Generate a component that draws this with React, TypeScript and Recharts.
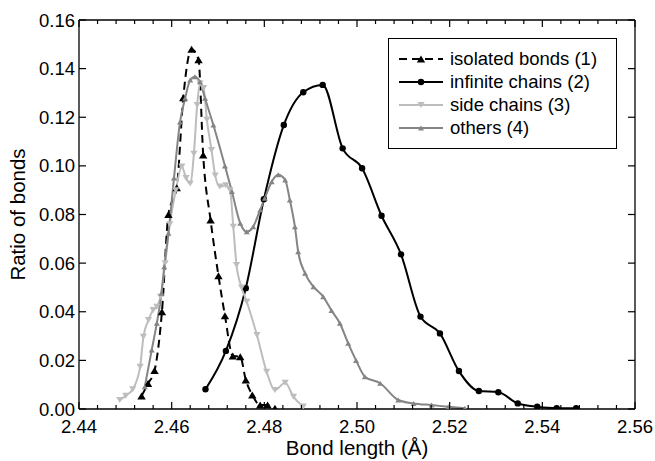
import React from "react";
import { LineChart, Line, XAxis, YAxis, Legend } from "recharts";

// bond length (Å) / ratio of bonds
const isolatedX = [2.4535, 2.4549, 2.4563, 2.4579, 2.4593, 2.4611, 2.4625, 2.4643, 2.4658, 2.4668, 2.4684, 2.4701, 2.4715, 2.4732, 2.4748, 2.476, 2.4774, 2.4791, 2.4807, 2.4823];
const isolatedY = [0.0053, 0.0105, 0.0158, 0.04, 0.08, 0.091, 0.128, 0.148, 0.1436, 0.1045, 0.0777, 0.0548, 0.0384, 0.0218, 0.0215, 0.0119, 0.0058, 0.0016, 0.0016, 0.0003];

const infiniteX = [2.4673, 2.4717, 2.476, 2.4799, 2.4842, 2.4884, 2.4926, 2.4969, 2.5011, 2.5053, 2.5095, 2.5137, 2.5179, 2.522, 2.5263, 2.5305, 2.5347, 2.5389, 2.5431, 2.5473];
const infiniteY = [0.0081, 0.0239, 0.0497, 0.0863, 0.1168, 0.1303, 0.1333, 0.1072, 0.099, 0.0795, 0.0636, 0.038, 0.0311, 0.0156, 0.0074, 0.0069, 0.0023, 0.0009, 0.0003, 0.0003];

const sideX = [2.4488, 2.4501, 2.4516, 2.4532, 2.4539, 2.455, 2.456, 2.4568, 2.4576, 2.4586, 2.4596, 2.4609, 2.4622, 2.4631, 2.464, 2.4648, 2.4655, 2.4661, 2.4669, 2.4676, 2.4686, 2.4694, 2.4704, 2.4717, 2.4726, 2.4733, 2.474, 2.4751, 2.4762, 2.4784, 2.4805, 2.4823, 2.4845, 2.4863, 2.4884];
const sideY = [0.0037, 0.0055, 0.0081, 0.0174, 0.0297, 0.0366, 0.0407, 0.0421, 0.0462, 0.06, 0.076, 0.09, 0.0997, 0.095, 0.0928, 0.105, 0.125, 0.134, 0.132, 0.119, 0.1065, 0.096, 0.0915, 0.092, 0.09, 0.075, 0.0592, 0.05, 0.0441, 0.0304, 0.0153, 0.0078, 0.0108, 0.005, 0.001];

const othersX = [2.4542, 2.4557, 2.4568, 2.4578, 2.4584, 2.4593, 2.4605, 2.4618, 2.4629, 2.464, 2.465, 2.4661, 2.4672, 2.469, 2.4715, 2.473, 2.4748, 2.4762, 2.4776, 2.4791, 2.4801, 2.4816, 2.483, 2.4845, 2.4855, 2.4866, 2.4873, 2.4888, 2.4906, 2.4927, 2.4945, 2.4963, 2.4981, 2.4998, 2.5017, 2.505, 2.5089, 2.5122, 2.5161, 2.5197, 2.5233];
const othersY = [0.0092, 0.0243, 0.0353, 0.0476, 0.0585, 0.0723, 0.095, 0.118, 0.1278, 0.1353, 0.1367, 0.1346, 0.1278, 0.1168, 0.1, 0.0895, 0.0764, 0.0729, 0.075, 0.0819, 0.0867, 0.0935, 0.0963, 0.0942, 0.086, 0.075, 0.0647, 0.0558, 0.0503, 0.0462, 0.0405, 0.0353, 0.027, 0.02, 0.0133, 0.0106, 0.0037, 0.0023, 0.0016, 0.0009, 0.0003];

const seriesNames = ["isolated bonds (1)", "infinite chains (2)", "side chains (3)", "others (4)"];

const xMajorTicks = [2.44, 2.46, 2.48, 2.5, 2.52, 2.54, 2.56];
const xMinorTicks = Array.from({ length: 31 }, (_, i) => +(2.44 + i * 0.004).toFixed(3));
const yTicks = [0, 0.02, 0.04, 0.06, 0.08, 0.1, 0.12, 0.14, 0.16];

const FONT = '"Liberation Sans", Arial, Helvetica, sans-serif';
const FS = 18.5;
const TITLE_FS = 20.5;

const zip = (xs: number[], ys: number[]) => xs.map((x, i) => ({ x, y: ys[i] }));

const isMajor = (v: number) => xMajorTicks.some((t) => Math.abs(t - v) < 1e-6);

function BottomTick(props: any) {
  const { x, y, payload } = props;
  const major = isMajor(payload.value);
  return (
    <g>
      <line x1={x} y1={y} x2={x} y2={y - (major ? 7 : 4)} stroke="#000" strokeWidth={1.2} />
      {major && (
        <text x={x} y={y + 24} textAnchor="middle" fontSize={FS} fontFamily={FONT} fill="#000">
          {payload.value.toFixed(2)}
        </text>
      )}
    </g>
  );
}

function TopTick(props: any) {
  const { x, y, payload } = props;
  const major = isMajor(payload.value);
  return <line x1={x} y1={y} x2={x} y2={y + (major ? 7 : 4)} stroke="#000" strokeWidth={1.2} />;
}

function LeftTick(props: any) {
  const { x, y, payload } = props;
  return (
    <g>
      <line x1={x} y1={y} x2={x + 7} y2={y} stroke="#000" strokeWidth={1.2} />
      <text x={x - 4} y={y + 6.5} textAnchor="end" fontSize={FS} fontFamily={FONT} fill="#000">
        {payload.value.toFixed(2)}
      </text>
    </g>
  );
}

function RightTick(props: any) {
  const { x, y } = props;
  return <line x1={x} y1={y} x2={x - 7} y2={y} stroke="#000" strokeWidth={1.2} />;
}

function marker(kind: string, size: number, color: string) {
  return (p: any) => {
    const { cx, cy, index } = p;
    if (cx == null || cy == null) return <g key={index} />;
    if (kind === "circle") return <circle key={index} cx={cx} cy={cy} r={size} fill={color} />;
    const w = size * 1.2;
    const h = size;
    const pts =
      kind === "down"
        ? `${cx - w / 2},${cy - h / 2} ${cx + w / 2},${cy - h / 2} ${cx},${cy + h / 2}`
        : `${cx - w / 2},${cy + h / 2} ${cx + w / 2},${cy + h / 2} ${cx},${cy - h / 2}`;
    return <polygon key={index} points={pts} fill={color} />;
  };
}

const styles = [
  { color: "#000000", dash: "8 5", kind: "up", size: 7 },
  { color: "#000000", dash: undefined, kind: "circle", size: 3.2 },
  { color: "#bdbdbd", dash: undefined, kind: "down", size: 6 },
  { color: "#858585", dash: undefined, kind: "up", size: 5 },
];

function LegendBox() {
  return (
    <div
      style={{
        boxSizing: "border-box",
        width: 229,
        height: 111,
        border: "1.3px solid #000",
        background: "#fff",
        padding: "8px 0 0 10px",
        fontFamily: FONT,
        fontSize: FS,
        color: "#000",
      }}
    >
      {seriesNames.map((name, i) => {
        const s = styles[i];
        const m = marker(s.kind, s.size, s.color)({ cx: 22, cy: 11, index: i });
        return (
          <div key={name} style={{ display: "flex", alignItems: "center", height: 23 }}>
            <svg width={51} height={22} style={{ flex: "none" }}>
              <line x1={0} x2={44} y1={11} y2={11} stroke={s.color} strokeWidth={2} strokeDasharray={s.dash} />
              {m}
            </svg>
            <span style={{ lineHeight: "22px" }}>{name}</span>
          </div>
        );
      })}
    </div>
  );
}

const seriesData = [zip(isolatedX, isolatedY), zip(infiniteX, infiniteY), zip(sideX, sideY), zip(othersX, othersY)];

export default function App() {
  return (
    <div style={{ position: "absolute", left: 0, top: 0, width: 655, height: 461, background: "#fff", fontFamily: FONT }}>
      <LineChart width={655} height={461} margin={{ top: 19, right: 19, bottom: 51, left: 78 }}>
        <XAxis
          xAxisId="bottom"
          type="number"
          dataKey="x"
          domain={[2.44, 2.56]}
          allowDataOverflow
          ticks={xMinorTicks}
          interval={0}
          tickLine={false}
          tickSize={0}
          tickMargin={0}
          tick={<BottomTick />}
          height={1}
          axisLine={{ stroke: "#000", strokeWidth: 1.3 }}
          label={{ value: "Bond length (Å)", position: "bottom", offset: 30, fontSize: TITLE_FS, fill: "#000" }}
        />
        <XAxis
          xAxisId="top"
          orientation="top"
          type="number"
          dataKey="x"
          domain={[2.44, 2.56]}
          allowDataOverflow
          ticks={xMinorTicks}
          interval={0}
          tickLine={false}
          tickSize={0}
          tickMargin={0}
          tick={<TopTick />}
          height={1}
          axisLine={{ stroke: "#000", strokeWidth: 1.3 }}
        />
        <YAxis
          yAxisId="left"
          type="number"
          domain={[0, 0.16]}
          allowDataOverflow
          ticks={yTicks}
          interval={0}
          tickLine={false}
          tickSize={0}
          tickMargin={0}
          tick={<LeftTick />}
          width={1}
          axisLine={{ stroke: "#000", strokeWidth: 1.3 }}
          label={{ value: "Ratio of bonds", angle: -90, position: "left", offset: 60, textAnchor: "middle", fontSize: TITLE_FS, fill: "#000" }}
        />
        <YAxis
          yAxisId="right"
          orientation="right"
          type="number"
          domain={[0, 0.16]}
          allowDataOverflow
          ticks={yTicks}
          interval={0}
          tickLine={false}
          tickSize={0}
          tickMargin={0}
          tick={<RightTick />}
          width={1}
          axisLine={{ stroke: "#000", strokeWidth: 1.3 }}
        />
        <Legend
          layout="vertical"
          align="center"
          verticalAlign="middle"
          content={() => <LegendBox />}
          wrapperStyle={{ top: 38, left: 388, width: 229, height: 111 }}
        />
        {seriesNames.map((name, i) => (
          <Line
            key={name}
            name={name}
            xAxisId="bottom"
            yAxisId="left"
            data={seriesData[i]}
            dataKey="y"
            type="monotone"
            stroke={styles[i].color}
            strokeWidth={2}
            strokeDasharray={styles[i].dash}
            dot={marker(styles[i].kind, styles[i].size, styles[i].color)}
            activeDot={false}
            isAnimationActive={false}
          />
        ))}
      </LineChart>
    </div>
  );
}
